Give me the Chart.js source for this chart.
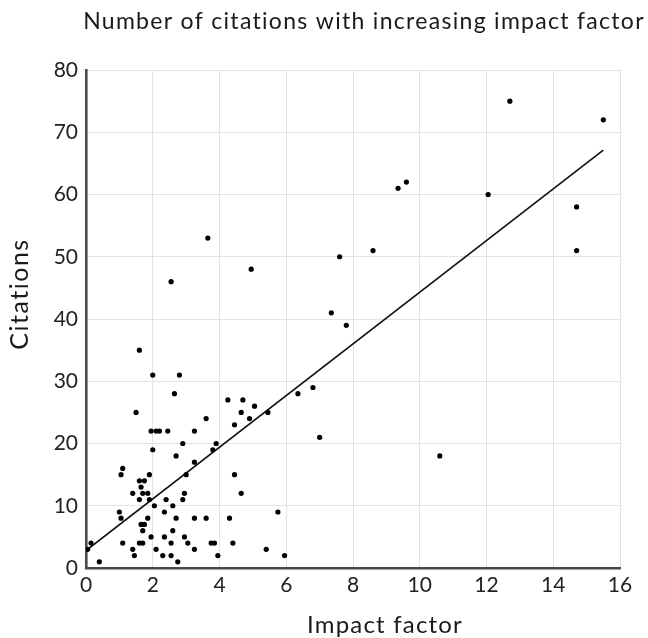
<!DOCTYPE html>
<html>
<head>
<meta charset="utf-8">
<script src="https://cdn.jsdelivr.net/npm/chart.js@4.4.1/dist/chart.umd.min.js"></script>
<style>
  body { margin: 0; background: #fff; }
  canvas { display: block; }
</style>
</head>
<body>
<canvas id="myChart" width="648" height="638"></canvas>
<script>
const chartTitle = 'Number of citations with increasing impact factor';
const xTitle = 'Impact factor';
const yTitle = 'Citations';

// impact factor (x) and citations (y) of each paper
const impactFactor = [
    12.7, 15.5, 9.6, 9.35, 12.05, 14.7, 14.7, 8.6, 7.6, 7.35, 7.8, 6.35, 6.8, 7.0, 10.6,
    3.65, 2.55, 4.95,
    1.6, 2.0, 2.8, 2.65, 1.5, 3.6,
    1.95, 2.1, 2.2, 2.45, 3.25,
    2.0, 2.9, 2.7, 3.25, 3.0, 1.1, 1.05, 1.9,
    1.6, 1.75, 1.65, 1.4, 1.7, 1.85, 1.6, 1.9,
    2.95, 2.9, 2.4, 2.05, 2.6, 2.35, 1.0, 1.05, 1.85, 2.7, 3.25, 3.6,
    1.65, 1.75, 1.7, 2.6, 0.15, 1.1, 1.6, 1.7, 1.95, 2.35, 2.95, 3.05, 2.55,
    3.25, 2.1, 1.4, 1.45, 2.3, 2.55, 2.75, 0.4, 0.05,
    4.25, 4.7, 5.05, 4.65, 4.9, 5.45, 4.45, 3.9, 3.8, 4.45, 4.65, 5.75, 4.3,
    3.75, 3.85, 4.4, 3.95, 5.4, 5.95
];
const citations = [
    75, 72, 62, 61, 60, 58, 51, 51, 50, 41, 39, 28, 29, 21, 18,
    53, 46, 48,
    35, 31, 31, 28, 25, 24,
    22, 22, 22, 22, 22,
    19, 20, 18, 17, 15, 16, 15, 15,
    14, 14, 13, 12, 12, 12, 11, 11,
    12, 11, 11, 10, 10, 9, 9, 8, 8, 8, 8, 8,
    7, 7, 6, 6, 4, 4, 4, 4, 5, 5, 5, 4, 4,
    3, 3, 3, 2, 2, 2, 1, 1, 3,
    27, 27, 26, 25, 24, 25, 23, 20, 19, 15, 12, 9, 8,
    4, 4, 4, 2, 3, 2
];

// fitted trend: citations = intercept + slope * impact factor
const trendIntercept = 2.8;
const trendSlope = 4.15;
const trendRange = [0, 15.5];

const xTicks = [0, 2, 4, 6, 8, 10, 12, 14, 16];
const yTicks = [0, 10, 20, 30, 40, 50, 60, 70, 80];

const points = impactFactor.map((x, i) => ({ x: x, y: citations[i] }));
const trend = trendRange.map(x => ({ x: x, y: trendIntercept + trendSlope * x }));

// chart title and the two axis titles, drawn straight on the canvas
function drawText(c, text, x, y, size, spacing, angle) {
    c.save();
    c.translate(x, y);
    c.rotate(angle);
    c.font = size + 'px Lato';
    c.letterSpacing = spacing + 'px';
    c.fillStyle = '#1a1a1a';
    c.textAlign = 'center';
    c.textBaseline = 'alphabetic';
    c.fillText(text, 0, 0);
    c.restore();
}

const titlePlugin = {
    id: 'titles',
    afterDraw(chart) {
        const c = chart.ctx;
        drawText(c, chartTitle, 364, 29, 23, 1.3, 0);
        drawText(c, xTitle, 385, 633, 24, 1.2, 0);
        drawText(c, yTitle, 28, 294, 25, 1.5, -Math.PI / 2);
    }
};

const ctx = document.getElementById('myChart').getContext('2d');
const myChart = new Chart(ctx, {
    type: 'scatter',
    data: {
        datasets: [{
            label: 'Citations',
            data: points,
            backgroundColor: '#000',
            borderColor: '#000',
            pointRadius: 2.6,
            pointBorderWidth: 0
        }, {
            type: 'line',
            label: 'Trend',
            data: trend,
            borderColor: '#111',
            borderWidth: 1.6,
            pointRadius: 0,
            fill: false
        }]
    },
    options: {
        responsive: false,
        animation: false,
        layout: { padding: { top: 70, right: 28, left: 0, bottom: 0 } },
        plugins: {
            legend: { display: false },
            tooltip: { enabled: false }
        },
        scales: {
            x: {
                type: 'linear',
                min: 0,
                max: 16,
                afterFit: (scale) => { scale.height = 70; },
                afterBuildTicks: (scale) => { scale.ticks = xTicks.map(v => ({ value: v })); },
                grid: { color: '#e3e3e3', drawTicks: false },
                border: { color: '#4a4a4a', width: 2.6 },
                ticks: { padding: 5, color: '#222', font: { family: 'Lato', size: 21 } }
            },
            y: {
                min: 0,
                max: 80,
                afterFit: (scale) => { scale.width = 86; },
                afterBuildTicks: (scale) => { scale.ticks = yTicks.map(v => ({ value: v })); },
                grid: { color: '#e3e3e3', drawTicks: false },
                border: { color: '#4a4a4a', width: 2.6 },
                ticks: { padding: 8, color: '#222', font: { family: 'Lato', size: 21 } }
            }
        }
    },
    plugins: [titlePlugin]
});
</script>
</body>
</html>
